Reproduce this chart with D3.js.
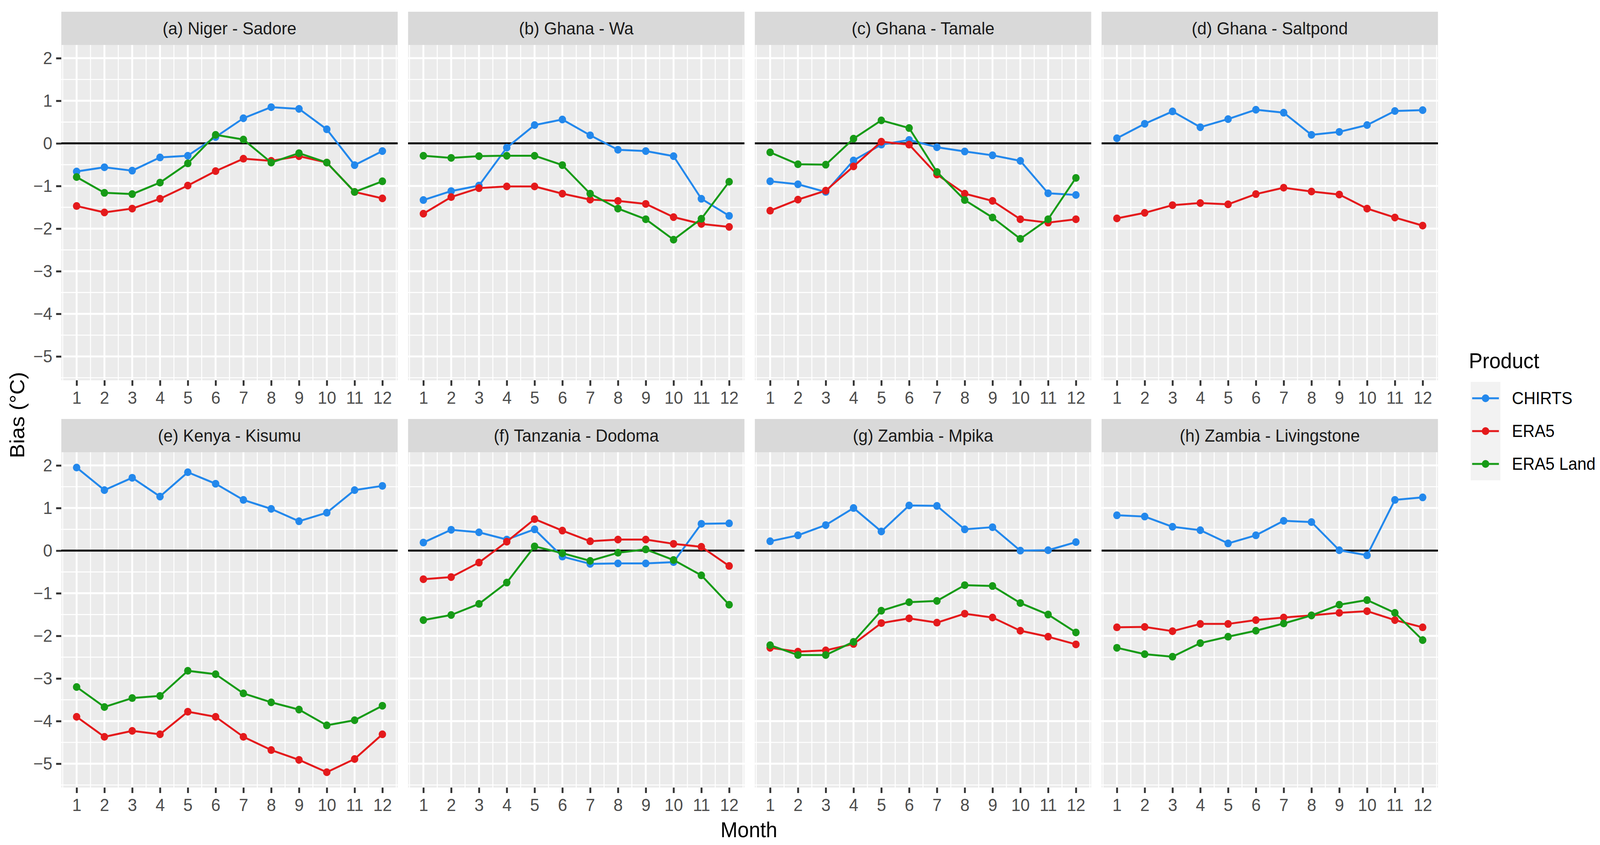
<!DOCTYPE html>
<html>
<head>
<meta charset="utf-8">
<script src="https://cdn.jsdelivr.net/npm/d3@7"></script>
<style>
  html, body { margin: 0; padding: 0; overflow: hidden; background: #fff; }
  svg { display: block; width: 100vw; height: 100vh; }
  text { font-family: "Liberation Sans", Arial, sans-serif; }
</style>
</head>
<body>
<svg viewBox="0 0 4305 2162" preserveAspectRatio="none"></svg>
<script>
// months on the x axis
var months = [1, 2, 3, 4, 5, 6, 7, 8, 9, 10, 11, 12];
var yTicks = [-5, -4, -3, -2, -1, 0, 1, 2];
var products = ["CHIRTS", "ERA5", "ERA5 Land"];
var sites = [
  "(a) Niger - Sadore", "(b) Ghana - Wa", "(c) Ghana - Tamale", "(d) Ghana - Saltpond",
  "(e) Kenya - Kisumu", "(f) Tanzania - Dodoma", "(g) Zambia - Mpika", "(h) Zambia - Livingstone"
];

// bias per site, one row per site (same order as sites)
var chirts = [
  [-0.66, -0.56, -0.64, -0.33, -0.29, 0.15, 0.59, 0.85, 0.81, 0.33, -0.51, -0.18],
  [-1.33, -1.12, -0.99, -0.10, 0.43, 0.56, 0.19, -0.15, -0.18, -0.30, -1.30, -1.70],
  [-0.89, -0.96, -1.14, -0.40, -0.03, 0.08, -0.09, -0.19, -0.28, -0.41, -1.17, -1.21],
  [0.12, 0.46, 0.75, 0.38, 0.57, 0.79, 0.72, 0.20, 0.27, 0.43, 0.76, 0.78],
  [1.95, 1.42, 1.71, 1.27, 1.84, 1.57, 1.19, 0.98, 0.69, 0.89, 1.42, 1.52],
  [0.19, 0.49, 0.43, 0.26, 0.50, -0.14, -0.31, -0.30, -0.30, -0.27, 0.63, 0.64],
  [0.22, 0.36, 0.60, 1.00, 0.45, 1.06, 1.05, 0.50, 0.55, 0.00, 0.01, 0.20],
  [0.83, 0.80, 0.56, 0.48, 0.17, 0.36, 0.70, 0.67, 0.01, -0.11, 1.19, 1.25]
];
var era5 = [
  [-1.47, -1.62, -1.53, -1.30, -0.99, -0.65, -0.36, -0.41, -0.30, -0.45, -1.14, -1.29],
  [-1.65, -1.26, -1.05, -1.01, -1.01, -1.18, -1.32, -1.35, -1.42, -1.73, -1.89, -1.96],
  [-1.58, -1.32, -1.11, -0.54, 0.04, -0.03, -0.73, -1.18, -1.35, -1.78, -1.86, -1.78],
  [-1.76, -1.63, -1.45, -1.40, -1.43, -1.19, -1.04, -1.13, -1.20, -1.53, -1.74, -1.93],
  [-3.90, -4.37, -4.23, -4.31, -3.78, -3.90, -4.37, -4.68, -4.91, -5.20, -4.89, -4.31],
  [-0.67, -0.62, -0.28, 0.21, 0.74, 0.47, 0.22, 0.26, 0.26, 0.16, 0.09, -0.36],
  [-2.28, -2.37, -2.34, -2.19, -1.70, -1.59, -1.69, -1.48, -1.57, -1.88, -2.02, -2.20],
  [-1.80, -1.79, -1.89, -1.72, -1.72, -1.63, -1.57, -1.52, -1.46, -1.42, -1.63, -1.80]
];
// Saltpond has no ERA5 Land series
var era5Land = [
  [-0.79, -1.16, -1.19, -0.92, -0.47, 0.20, 0.09, -0.45, -0.23, -0.45, -1.14, -0.89],
  [-0.29, -0.34, -0.30, -0.29, -0.29, -0.51, -1.18, -1.53, -1.78, -2.26, -1.77, -0.90],
  [-0.21, -0.49, -0.50, 0.11, 0.54, 0.36, -0.67, -1.33, -1.74, -2.24, -1.78, -0.81],
  null,
  [-3.20, -3.67, -3.46, -3.41, -2.82, -2.90, -3.35, -3.56, -3.73, -4.10, -3.98, -3.64],
  [-1.63, -1.51, -1.25, -0.75, 0.10, -0.06, -0.24, -0.05, 0.03, -0.22, -0.58, -1.27],
  [-2.22, -2.45, -2.45, -2.14, -1.41, -1.21, -1.18, -0.81, -0.83, -1.23, -1.50, -1.92],
  [-2.28, -2.43, -2.49, -2.17, -2.02, -1.88, -1.71, -1.52, -1.27, -1.16, -1.46, -2.10]
];

var colors = ["#2388EC", "#E41A1C", "#179B17"];
var series = [chirts, era5, era5Land];

var svg = d3.select("svg"),
  panel = {left: 165, width: 905, gap: 28, height: 858, strip: 85},
  rowTop = [115, 1157];

var x = d3.scaleLinear().domain([0.45, 12.55]).range([0, panel.width]);
var y = d3.scaleLinear().domain([-5.56, 2.31]).range([panel.height, 0]);

var line = d3.line()
  .x(function(d) { return x(d.m) })
  .y(function(d) { return y(d.v) });

sites.forEach(function(site, i) {
  var col = i % 4, row = Math.floor(i / 4);
  var g = svg.append("g")
    .attr("transform", "translate(" + (panel.left + col * (panel.width + panel.gap)) + "," + rowTop[row] + ")");

  // strip
  g.append("rect")
    .attr("y", -panel.strip).attr("width", panel.width).attr("height", panel.strip)
    .attr("fill", "#D9D9D9");
  g.append("text")
    .attr("x", panel.width / 2).attr("y", -panel.strip / 2)
    .attr("dy", "0.35em").attr("text-anchor", "middle")
    .attr("font-size", 45).attr("fill", "#1A1A1A")
    .text(site);

  // panel background and grid
  g.append("rect").attr("width", panel.width).attr("height", panel.height).attr("fill", "#EBEBEB");
  var minorY = d3.range(-5.5, 2.5, 1).filter(function(v) { return v >= y.domain()[0] && v <= y.domain()[1] });
  var minorX = d3.range(0.5, 13, 1).filter(function(v) { return v >= x.domain()[0] && v <= x.domain()[1] });
  g.selectAll(".minory").data(minorY).enter().append("line")
    .attr("x1", 0).attr("x2", panel.width).attr("y1", y).attr("y2", y)
    .attr("stroke", "#fff").attr("stroke-width", 2.6);
  g.selectAll(".minorx").data(minorX).enter().append("line")
    .attr("y1", 0).attr("y2", panel.height).attr("x1", x).attr("x2", x)
    .attr("stroke", "#fff").attr("stroke-width", 2.6);
  g.selectAll(".majory").data(yTicks).enter().append("line")
    .attr("x1", 0).attr("x2", panel.width).attr("y1", y).attr("y2", y)
    .attr("stroke", "#fff").attr("stroke-width", 5);
  g.selectAll(".majorx").data(months).enter().append("line")
    .attr("y1", 0).attr("y2", panel.height).attr("x1", x).attr("x2", x)
    .attr("stroke", "#fff").attr("stroke-width", 5);

  // x axis on every panel
  var xa = g.append("g")
    .attr("transform", "translate(0," + panel.height + ")")
    .call(d3.axisBottom(x).tickValues(months).tickSize(14).tickPadding(14));
  xa.select(".domain").remove();
  xa.selectAll("line").attr("stroke", "#333").attr("stroke-width", 5);
  xa.selectAll("text").attr("font-size", 45).attr("fill", "#4D4D4D")
    .attr("font-family", "Liberation Sans, Arial, sans-serif");

  // y axis only on the left column
  if (col == 0) {
    var ya = g.append("g")
      .call(d3.axisLeft(y).tickValues(yTicks).tickSize(14).tickPadding(10)
        .tickFormat(function(d) { return d < 0 ? "\u2212" + (-d) : d }));
    ya.select(".domain").remove();
    ya.selectAll("line").attr("stroke", "#333").attr("stroke-width", 5);
    ya.selectAll("text").attr("font-size", 45).attr("fill", "#4D4D4D")
      .attr("font-family", "Liberation Sans, Arial, sans-serif");
  }

  // zero reference line
  g.append("line")
    .attr("x1", 0).attr("x2", panel.width).attr("y1", y(0)).attr("y2", y(0))
    .attr("stroke", "#000").attr("stroke-width", 5);

  series.forEach(function(s, k) {
    if (!s[i]) return;
    var pts = months.map(function(m, j) { return {m: m, v: s[i][j]} });
    g.append("path")
      .datum(pts)
      .attr("fill", "none")
      .attr("stroke", colors[k])
      .attr("stroke-width", 5)
      .attr("stroke-linejoin", "round")
      .attr("d", line);
    g.selectAll(".pt" + k).data(pts).enter().append("circle")
      .attr("cx", function(d) { return x(d.m) })
      .attr("cy", function(d) { return y(d.v) })
      .attr("r", 10)
      .attr("fill", colors[k]);
  });
});

// axis titles
svg.append("text")
  .attr("x", 2015).attr("y", 2142)
  .attr("text-anchor", "middle").attr("font-size", 55).attr("fill", "#000")
  .text("Month");
svg.append("text")
  .attr("transform", "translate(65,1062) rotate(-90)")
  .attr("text-anchor", "middle").attr("font-size", 55).attr("fill", "#000")
  .text("Bias (\u00B0C)");

// legend
var lg = svg.append("g").attr("transform", "translate(3957,977)");
lg.append("text")
  .attr("x", -5).attr("y", -35)
  .attr("font-size", 55).attr("fill", "#000")
  .text("Product");
products.forEach(function(p, k) {
  var ky = k * 84;
  lg.append("rect").attr("y", ky).attr("width", 80).attr("height", 84).attr("fill", "#F2F2F2");
  lg.append("line")
    .attr("x1", 4).attr("x2", 76).attr("y1", ky + 42).attr("y2", ky + 42)
    .attr("stroke", colors[k]).attr("stroke-width", 5);
  lg.append("circle").attr("cx", 40).attr("cy", ky + 42).attr("r", 10).attr("fill", colors[k]);
  lg.append("text")
    .attr("x", 111).attr("y", ky + 42).attr("dy", "0.35em")
    .attr("font-size", 44).attr("fill", "#000")
    .text(p);
});
</script>
</body>
</html>
